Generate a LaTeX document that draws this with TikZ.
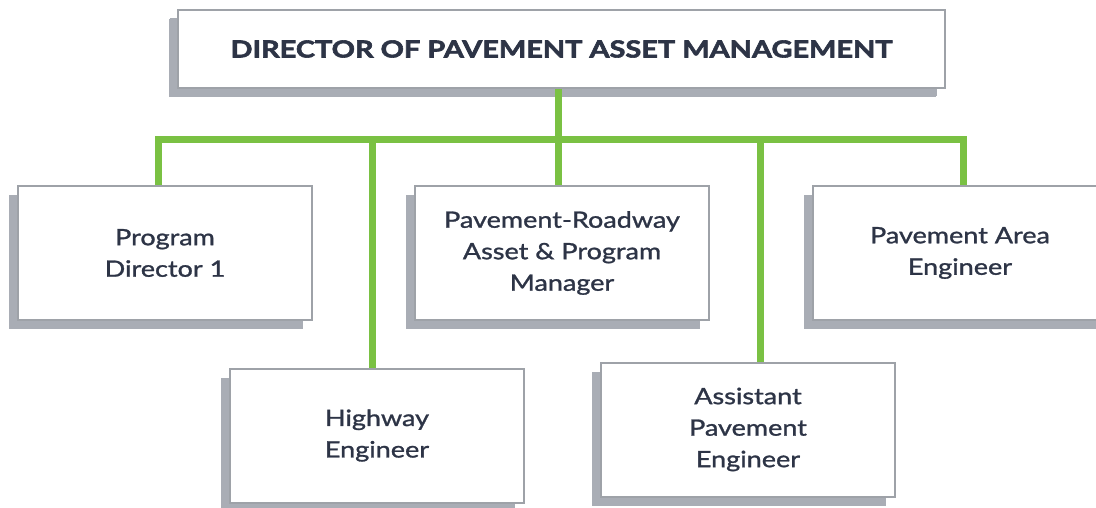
\documentclass[tikz,border=0pt]{standalone}
\usepackage{fontspec}
\setmainfont{Lato}
\newfontfamily\bodyfont{Lato}[FakeStretch=1.2, FakeBold=1.2]
\newfontfamily\titlefont{Lato}[BoldFeatures={FakeStretch=1.23, FakeBold=2.6}]
\usetikzlibrary{shadows}
\definecolor{txt}{HTML}{2D3446}
\definecolor{bord}{HTML}{9EA2A8}
\definecolor{shad}{HTML}{A9ADB5}
\definecolor{grn}{HTML}{7AC143}
\tikzset{
  box/.style={draw=bord, line width=2pt, fill=white, align=center, text=txt,
    inner sep=0pt, minimum width=294pt, minimum height=134pt,
    font=\bodyfont\fontsize{22.5}{31.5}\selectfont,
    drop shadow={shadow xshift=-9pt, shadow yshift=-9pt, opacity=1, fill=shad}},
  topbox/.style={box, minimum width=767pt, minimum height=78pt,
    font=\titlefont\bfseries\fontsize{23.5}{30}\selectfont,
    drop shadow={shadow xshift=-8pt, shadow yshift=-8pt, opacity=1, fill=shad}},
  conn/.style={draw=grn, line width=7pt, line join=miter}
}
\begin{document}
\begin{tikzpicture}[x=1pt,y=-1pt]
\clip (0,0) rectangle (1096,508);
\fill[white] (0,0) rectangle (1096,508);
\node[topbox] (top) at (561.5,49) {DIRECTOR OF PAVEMENT ASSET MANAGEMENT};
\node[box] (pd) at (165,253) {Program\\Director 1};
\node[box] (pr) at (562,253) {Pavement-Roadway\\Asset \& Program\\Manager};
\node[box] (pa) at (960,253) {Pavement Area\\Engineer};
\node[box] (hw) at (377,435.5) {Highway\\Engineer};
\node[box] (ap) at (748,429.5) {Assistant\\Pavement\\Engineer};
\coordinate (j) at (558,140);
\draw[conn] (top.south -| j) -- (j);
\draw[conn] ([xshift=-7pt]pd.north) |- (j) -| ([xshift=3pt]pa.north);
\draw[conn] (j) -- ([xshift=-4pt]pr.north);
\draw[conn] ([xshift=-5pt]hw.north) -- ++(0,-229);
\draw[conn] ([xshift=12pt]ap.north) -- ++(0,-223);
\end{tikzpicture}
\end{document}
